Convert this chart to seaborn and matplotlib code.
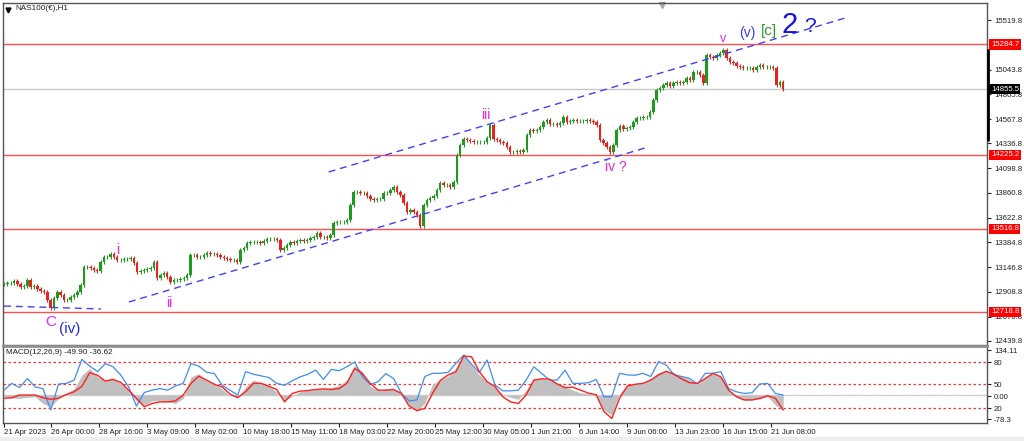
import numpy as np
import pandas as pd
import matplotlib
matplotlib.use("Agg")
import matplotlib.pyplot as plt
import matplotlib.transforms as mtransforms
from matplotlib.patches import Rectangle
import seaborn as sns

# ---------------------------
# Data read off the NAS100(€) H1 chart
# ---------------------------
closes = [
    12986, 12995, 12995, 13014, 12986, 12957, 12966, 13024, 12957, 12966,
    12938, 12918, 12909, 12832, 12755, 12851, 12909, 12880, 12832, 12832,
    12861, 12880, 12909, 12976, 13149, 13149, 13139, 13120, 13110, 13197,
    13245, 13245, 13274, 13245, 13216, 13216, 13226, 13226, 13235, 13187,
    13101, 13110, 13120, 13130, 13139, 13197, 13043, 13072, 13091, 13053,
    13005, 13024, 13024, 13034, 13043, 13072, 13264, 13264, 13245, 13245,
    13264, 13283, 13274, 13274, 13264, 13245, 13235, 13226, 13216, 13216,
    13197, 13312, 13331, 13379, 13389, 13389, 13389, 13379, 13398, 13418,
    13418, 13418, 13408, 13312, 13331, 13360, 13389, 13379, 13398, 13408,
    13398, 13408, 13427, 13437, 13475, 13437, 13437, 13427, 13456, 13571,
    13581, 13581, 13581, 13600, 13744, 13869, 13869, 13859, 13859, 13830,
    13802, 13792, 13802, 13802, 13859, 13859, 13888, 13917, 13869, 13840,
    13763, 13677, 13696, 13677, 13648, 13542, 13744, 13792, 13811, 13830,
    13888, 13955, 13936, 13936, 13917, 13965, 14224, 14320, 14378, 14368,
    14358, 14349, 14349, 14349, 14349, 14387, 14512, 14378, 14368, 14349,
    14339, 14301, 14253, 14253, 14262, 14253, 14272, 14416, 14464, 14454,
    14464, 14493, 14541, 14560, 14522, 14522, 14512, 14531, 14589, 14541,
    14550, 14560, 14550, 14550, 14550, 14560, 14550, 14541, 14512, 14368,
    14339, 14301, 14253, 14320, 14464, 14502, 14474, 14483, 14493, 14541,
    14579, 14579, 14589, 14589, 14637, 14752, 14848, 14867, 14896, 14915,
    14886, 14915, 14925, 14915, 14925, 14963, 14944, 15021, 15021, 14992,
    14915, 15184, 15165, 15155, 15184, 15203, 15232, 15155, 15117, 15107,
    15078, 15069, 15059, 15059, 15059, 15040, 15069, 15088, 15069, 15069,
    15069, 15059, 14896, 14925, 14856,
]

macd_hist = [
    -5, -10, -10, -7, -5, -26, -36, -10, 5, 20, 61, 82, 56, 46, 53, 36, 13, -18, -31, -18,
    -18, -21, -26, -10, 56, 66, 44, 36, 18, -2, -8, 25, 46, 38, 27, 10, -19, -3, 11, 15,
    17, 20, 23, 30, 46, 92, 72, 27, 15, 19,
    18, 5, -31, -48, -26, 34, 46, 58, 82, 128, 92, 62, 41, 23, 2, -7, -13, 15, 49, 51,
    46, 36, 26, 15, 7, 5, 0, -46, -62, 5, 28, 36, 38, 51, 69, 77, 67, 58, 48, 31,
    56, 67, 56, 17, -7, -15, -15, -12, -5, -31, -46,
]
macd_signal = [
    -10, -8, 0, 0, 0, -8, -13, -10, 2, 10, 27, 69, 61, 43, 48, 39, 15, -10, -36, -26,
    -21, -21, -18, 0, 36, 58, 46, 33, 25, 3, -8, 10, 36, 36, 27, 17, -21, 5, 12, 14,
    17, 19, 17, 20, 36, 82, 66, 36, 15, 15,
    17, 5, -34, -48, -41, 5, 45, 62, 72, 120, 118, 72, 41, 26, -5, -21, -26, 0, 46, 50,
    49, 34, 23, 24, 15, 6, 1, -51, -72, -10, 28, 33, 36, 46, 62, 73, 64, 49, 38, 36,
    51, 67, 56, 15, -5, -15, -15, -10, -2, -10, -46,
]
macd_fast = [
    15, 36, 23, 51, 25, 20, -46, 34, 36, 46, 110, 89, 72, 97, 87, 61, 25, -34, 8, 15,
    20, 15, 28, 36, 97, 89, 70, 66, 30, 15, 0, 72, 64, 59, 54, 36, 30, 44, 56, 64,
    77, 48, 79, 75, 87, 102, 56, 33, 41, 66,
    51, 5, -18, -15, 57, 67, 67, 70, 98, 123, 95, 69, 108, 31, 13, 13, 15, 46, 87, 67,
    46, 46, 77, 36, 36, 38, 48, -5, -5, 67, 62, 61, 67, 57, 103, 92, 62, 57, 51, 34,
    67, 67, 72, 20, 10, 5, 7, 34, 36, 5, 0,
]

x_labels = ["21 Apr 2023", "26 Apr 00:00", "28 Apr 16:00", "3 May 09:00", "8 May 02:00",
            "10 May 18:00", "15 May 11:00", "18 May 03:00", "22 May 20:00", "25 May 12:00",
            "30 May 05:00", "1 Jun 21:00", "6 Jun 14:00", "9 Jun 06:00", "13 Jun 23:00",
            "16 Jun 15:00", "21 Jun 08:00"]

price_ticks = [15519.8, 15043.8, 14805.8, 14567.8, 14336.8, 14098.8, 13860.8,
               13622.8, 13384.8, 13146.8, 12908.8, 12670.8, 12439.8]
red_levels = [15284.7, 14225.2, 13516.8, 12718.8]
current_price = 14855.5

macd_tick_labels = ["134.11", "80", "50", "0.00", "20", "-78.3"]
macd_tick_values = [138, 101, 33, -3, -40, -74]
macd_levels = [101, 33, -40]

# wave-count trendlines (bar, price)
upper_channel = ([97.5, 252.6], [14061, 15539])
lower_channel = ([37.5, 193.5], [12813, 14301])
base_line = ([0, 29.1], [12774, 12746])

# ---------------------------
# Style
# ---------------------------
sns.set_style("white")
plt.rcParams['font.family'] = ['Liberation Sans', 'DejaVu Sans']

UP = '#1f9a1f'
DOWN = '#e8221c'
MAGENTA = '#f020f0'
BLUE = '#2a2af0'
TREND = '#4040ff'
FS = 5.6

fig = plt.figure(figsize=(10.24, 4.41), dpi=100)
ax = fig.add_axes([3 / 1024, 1 - 345 / 441, 984 / 1024, 342 / 441])
ax2 = fig.add_axes([3 / 1024, 1 - 423 / 441, 984 / 1024, 77 / 441], sharex=ax)
fig.patches.append(Rectangle((0, 0), 1, 4 / 441, transform=fig.transFigure,
                             color='#eeeeee', zorder=0))

# ---------------------------
# Price panel (candles)
# ---------------------------
c = np.array(closes, dtype=float)
o = np.concatenate([[c[0]], c[:-1]])
x = np.arange(len(c))
up = c >= o
colors = np.where(up, UP, DOWN)
wick = 18
ax.vlines(x, np.minimum(o, c) - wick, np.maximum(o, c) + wick, colors=colors, lw=0.8, zorder=3)
body = np.where(np.abs(c - o) < 4, 4, c - o)
ax.bar(x, body, bottom=o, width=0.75, color=colors, linewidth=0, zorder=3)

for lvl in red_levels:
    ax.axhline(lvl, color='#ff5050', lw=1, zorder=2)
ax.axhline(current_price, color='#c8c8c8', lw=1, zorder=1)

dash = (0, (5, 3.5))
for xs, ys in (upper_channel, lower_channel, base_line):
    ax.plot(xs, ys, color=TREND, lw=1, linestyle=dash, zorder=4)

labels = [
    ("C", 14.1, 12621, MAGENTA, 11),
    ("(iv)", 19.6, 12550, BLUE, 11),
    ("i", 34.2, 13312, MAGENTA, 10),
    ("ii", 49.5, 12803, MAGENTA, 10),
    ("iii", 144.6, 14608, MAGENTA, 10),
    ("iv ?", 183.8, 14105, MAGENTA, 10),
    ("v", 216.0, 15338, MAGENTA, 9),
    ("(v)", 223.2, 15395, '#3a3aff', 10),
    ("[c]", 229.8, 15414, '#2d9a2d', 11),
    ("2", 235.8, 15472, '#1414e6', 21),
    ("?", 242.0, 15462, '#1414e6', 15),
]
for txt, bx, py, col, fs in labels:
    ax.text(bx, py, txt, color=col, fontsize=fs, ha='center', va='center', zorder=6)

ax.set_xlim(-0.3, 295.2)
ax.set_ylim(12400, 15683)
ax.yaxis.tick_right()
ax.set_yticks(price_ticks)
ax.set_yticklabels([f"{v:.1f}" for v in price_ticks])
ax.tick_params(axis='y', labelsize=FS, length=3, pad=2, colors='#202020', right=True)
ax.tick_params(axis='x', bottom=False, labelbottom=False)

blend = mtransforms.blended_transform_factory(ax.transAxes, ax.transData)
for lvl in red_levels:
    ax.text(1.004, lvl, f"{lvl:.1f}", transform=blend, ha='left', va='center', color='white',
            fontsize=FS, zorder=10, clip_on=False,
            bbox=dict(boxstyle='square,pad=0.2', fc='#ff0000', ec='none'))
ax.text(1.004, current_price, f"{current_price:.1f}", transform=blend, ha='left', va='center',
        color='white', fontsize=FS, zorder=10, clip_on=False,
        bbox=dict(boxstyle='square,pad=0.2', fc='black', ec='none'))
ax.plot([1.0015, 1.0015], [15232, 14368], transform=blend, color='black', lw=2,
        clip_on=False, zorder=9)

ax.text(0.0122, 0.9825, "NAS100(€),H1", transform=ax.transAxes, fontsize=FS + 0.3,
        ha='left', va='center', color='#202020')
ax.plot(0.005, 0.980, marker='v', ms=3.5, color='black', transform=ax.transAxes, clip_on=False)
ax.plot(0.67, 0.994, marker='v', ms=4.5, color='#a8a8a8', transform=ax.transAxes, clip_on=False)

# ---------------------------
# MACD panel
# ---------------------------
mx = np.linspace(0, len(c) - 1, len(macd_hist))
df_macd = pd.DataFrame({"bar": mx, "hist": macd_hist, "signal": macd_signal, "fast": macd_fast})
ax2.fill_between(df_macd["bar"], 0, df_macd["hist"], color='#c0c0c0', linewidth=0, zorder=2)
ax2.axhline(0, color='#d0d0d0', lw=1, zorder=1)
for lvl in macd_levels:
    ax2.axhline(lvl, color='#ff3030', lw=0.9, linestyle=(0, (2, 2)), zorder=1)
sns.lineplot(data=df_macd, x="bar", y="fast", ax=ax2, color='#3d8ef5', linewidth=0.9, zorder=3)
sns.lineplot(data=df_macd, x="bar", y="signal", ax=ax2, color='#ff2020', linewidth=1.0, zorder=4)

ax2.set_ylim(-86, 151)
ax2.set_xlabel("")
ax2.set_ylabel("")
ax2.yaxis.tick_right()
ax2.set_yticks(macd_tick_values)
ax2.set_yticklabels(macd_tick_labels)
ax2.tick_params(axis='y', labelsize=FS, length=3, pad=2, colors='#202020', right=True)

px_per_bar = 780 / (len(c) - 1)
tick_pos = [0] + [(47 + 48.07 * j) / px_per_bar for j in range(len(x_labels) - 1)]
ax2.set_xticks(tick_pos)
ax2.set_xticklabels(x_labels)
ax2.tick_params(axis='x', labelsize=FS, length=3, pad=1.5, colors='#202020', bottom=True)
for lbl in ax2.get_xticklabels():
    lbl.set_horizontalalignment('left')

ax2.text(0.003, 0.922, "MACD(12,26,9) -49.90 -36.62", transform=ax2.transAxes, fontsize=FS + 0.3,
         ha='left', va='center', color='#202020')

for a in (ax, ax2):
    for s in a.spines.values():
        s.set_color('#555555')
        s.set_linewidth(1)
ax2.spines['top'].set_color('#909090')
ax2.spines['top'].set_linewidth(2)

fig.savefig("out.png", dpi=100)
